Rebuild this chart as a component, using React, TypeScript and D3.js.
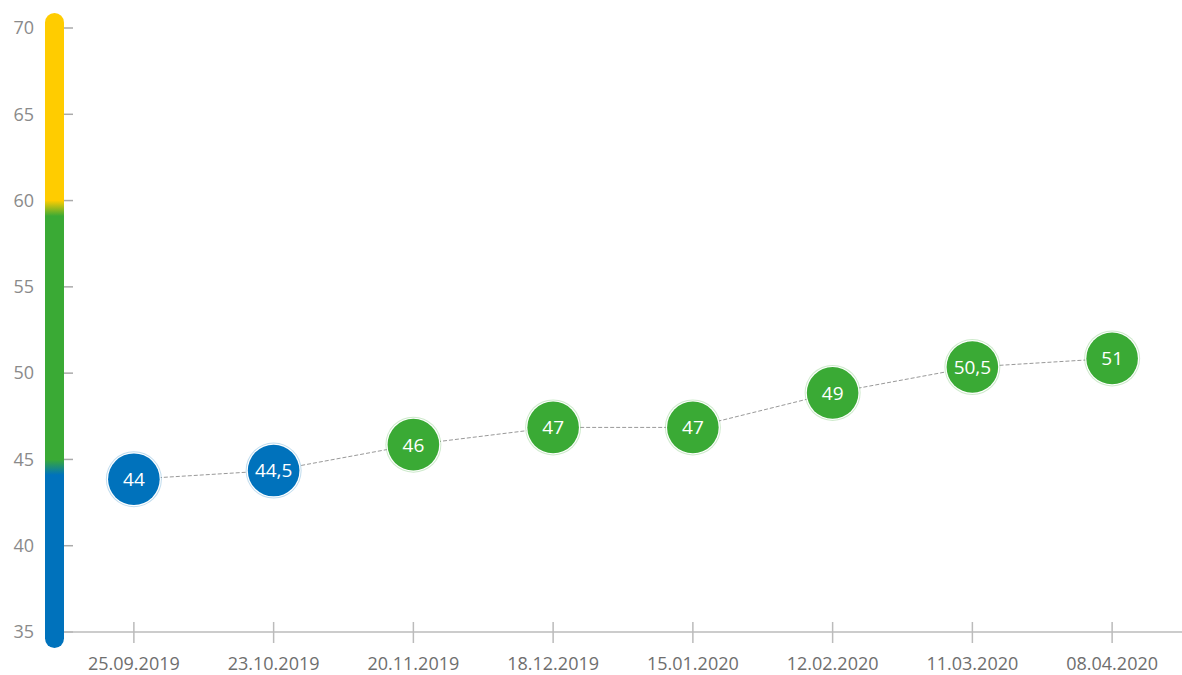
import React from "react";
import * as d3 from "d3";

const dates = ["25.09.2019","23.10.2019","20.11.2019","18.12.2019","15.01.2020","12.02.2020","11.03.2020","08.04.2020"];
const values = [44, 44.5, 46, 47, 47, 49, 50.5, 51];
const yTicks = [35, 40, 45, 50, 55, 60, 65, 70];
const thresholds = [45, 60];
const zoneColors = ["#0072BC", "#3AAA35", "#FFCC00"];

const W = 1182, H = 675;
const x = d3.scaleBand<string>().domain(dates).range([64, 1182]);
const y = d3.scaleLinear().domain([35, 70]).range([632, 28]);
const yData = d3.scaleLinear().domain([35, 70]).range([634.5, 30.5]);
const colorFor = (v: number) => (v < thresholds[0] ? zoneColors[0] : v < thresholds[1] ? zoneColors[1] : zoneColors[2]);
const fmt = (v: number) => String(v).replace(".", ",");

export default function App() {
  const cx = (d: string) => (x(d) as number) + x.bandwidth() / 2;
  const line = d3.line<number>().x((_, i) => cx(dates[i])).y((v) => yData(v));
  const barTop = 13, barBot = 648;
  const off = (v: number) => ((y(v) - barTop) / (barBot - barTop)) * 100;
  return (
    <svg width={W} height={H} style={{ position: "absolute", left: 0, top: 0, fontFamily: "'Open Sans', sans-serif" }}>
      <defs>
        <linearGradient id="zones" x1="0" y1="0" x2="0" y2="1">
          <stop offset={`${off(70)}%`} stopColor={zoneColors[2]} />
          <stop offset={`${off(60)}%`} stopColor={zoneColors[2]} />
          <stop offset={`${off(59.1)}%`} stopColor={zoneColors[1]} />
          <stop offset={`${off(45)}%`} stopColor={zoneColors[1]} />
          <stop offset={`${off(44.1)}%`} stopColor={zoneColors[0]} />
          <stop offset="100%" stopColor={zoneColors[0]} />
        </linearGradient>
      </defs>
      {yTicks.map((t) => (
        <g key={t}>
          <line x1={64} x2={73} y1={y(t)} y2={y(t)} stroke="#aaa" strokeWidth={1.5} />
          <text x={34} y={y(t)} dy="0.35em" textAnchor="end" fontSize={18} fill="#8a8a8a">{t}</text>
        </g>
      ))}
      <line x1={64} x2={1182} y1={632} y2={632} stroke="#bbb" strokeWidth={1.5} />
      {dates.map((d) => (
        <g key={d}>
          <line x1={cx(d)} x2={cx(d)} y1={622} y2={643} stroke="#bbb" strokeWidth={1.5} />
          <text x={cx(d)} y={664} dy="0.35em" textAnchor="middle" fontSize={18} fill="#6e6e6e">{d}</text>
        </g>
      ))}
      <rect x={45} y={barTop} width={19} height={barBot - barTop} rx={9.5} fill="url(#zones)" />
      <path d={line(values) || ""} fill="none" stroke="#999" strokeWidth={1} strokeDasharray="4,2" />
      {values.map((v, i) => {
        const c = colorFor(v);
        return (
          <g key={i} transform={`translate(${cx(dates[i])},${yData(v)})`}>
            <circle r={28} fill={c} fillOpacity={0.25} />
            <circle r={27} fill="#fff" />
            <circle r={25.8} fill={c} />
            <text dy="0.36em" textAnchor="middle" fontSize={19} fill="#fff">{fmt(v)}</text>
          </g>
        );
      })}
    </svg>
  );
}
